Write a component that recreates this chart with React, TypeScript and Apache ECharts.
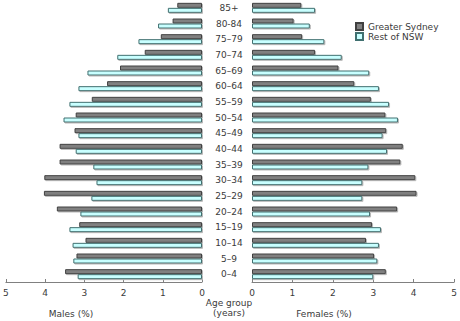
import React, { useEffect, useRef } from "react";
import * as echarts from "echarts";

const ageGroups = ["85+", "80-84", "75–79", "70–74", "65–69", "60–64", "55–59", "50–54", "45–49", "40–44", "35–39", "30–34", "25–29", "20–24", "15–19", "10–14", "5–9", "0–4"];
const malesSydney = [0.63, 0.75, 1.05, 1.46, 2.09, 2.42, 2.81, 3.22, 3.25, 3.63, 3.63, 4.02, 4.03, 3.70, 3.13, 2.97, 3.20, 3.49];
const malesRest = [0.87, 1.12, 1.62, 2.16, 2.92, 3.15, 3.38, 3.53, 3.15, 3.22, 2.77, 2.69, 2.82, 3.10, 3.38, 3.30, 3.28, 3.17];
const femalesSydney = [1.22, 1.03, 1.24, 1.56, 2.14, 2.53, 2.94, 3.30, 3.32, 3.73, 3.67, 4.04, 4.07, 3.59, 2.97, 2.82, 3.02, 3.31];
const femalesRest = [1.56, 1.43, 1.79, 2.22, 2.90, 3.14, 3.39, 3.61, 3.23, 3.34, 2.88, 2.73, 2.73, 2.92, 3.19, 3.14, 3.10, 3.00];
const seriesNames = ["Greater Sydney", "Rest of NSW"];

const FONT = "DejaVu Sans, Verdana, sans-serif";
const TXT = "#3a3a3a";

export default function App() {
  const ref = useRef<HTMLDivElement>(null);
  useEffect(() => {
    if (!ref.current) return;
    const chart = echarts.init(ref.current, null, { renderer: "svg" });
    const darkStyle = { color: "#808080", borderColor: "#404040", borderWidth: 1, shadowColor: "#b8b8b8", shadowOffsetX: 1, shadowOffsetY: 1, shadowBlur: 0 };
    const lightStyle = { color: "#c8ffff", borderColor: "#407070", borderWidth: 1, shadowColor: "#b8b8b8", shadowOffsetX: 1, shadowOffsetY: 1, shadowBlur: 0 };
    const xAxisCommon = {
      type: "value",
      min: 0,
      max: 5,
      interval: 1,
      splitLine: { show: false },
      axisLine: { show: true, lineStyle: { color: "#808080", width: 1 } },
      axisTick: { show: true, inside: true, length: 3, lineStyle: { color: "#808080" } },
      axisLabel: { color: TXT, fontSize: 9, fontFamily: FONT, margin: 6 },
    };
    const yAxisCommon = {
      type: "category",
      data: ageGroups,
      inverse: true,
      axisLine: { show: false },
      axisTick: { show: false },
    };
    const barCommon = { type: "bar", barWidth: 5, barGap: "0%", barCategoryGap: "20%" };
    chart.setOption({
      animation: false,
      textStyle: { fontFamily: FONT },
      grid: [
        { left: 4, width: 198, top: 0, height: 282 },
        { left: 252, width: 204, top: 0, height: 282 },
      ],
      xAxis: [
        { ...xAxisCommon, gridIndex: 0, inverse: true },
        { ...xAxisCommon, gridIndex: 1 },
      ],
      yAxis: [
        { ...yAxisCommon, gridIndex: 0, axisLabel: { show: false } },
        { ...yAxisCommon, gridIndex: 1, axisLabel: { show: true, color: TXT, fontSize: 9, fontFamily: FONT, align: "center", margin: 23 } },
      ],
      legend: {
        orient: "vertical",
        left: 350,
        top: 17,
        itemWidth: 7,
        itemHeight: 7,
        itemGap: 1,
        icon: "rect",
        textStyle: { fontSize: 9, color: TXT, fontFamily: FONT },
        data: seriesNames,
      },
      series: [
        { ...barCommon, name: seriesNames[0], xAxisIndex: 0, yAxisIndex: 0, data: malesSydney, itemStyle: darkStyle },
        { ...barCommon, name: seriesNames[1], xAxisIndex: 0, yAxisIndex: 0, data: malesRest, itemStyle: lightStyle },
        { ...barCommon, name: seriesNames[0], xAxisIndex: 1, yAxisIndex: 1, data: femalesSydney, itemStyle: darkStyle },
        { ...barCommon, name: seriesNames[1], xAxisIndex: 1, yAxisIndex: 1, data: femalesRest, itemStyle: lightStyle },
      ],
      graphic: [
        { type: "text", x: 71, y: 314, style: { text: "Males (%)", fontSize: 9, fontFamily: FONT, fill: TXT, align: "center", verticalAlign: "middle" } },
        { type: "text", x: 229, y: 303, style: { text: "Age group", fontSize: 9, fontFamily: FONT, fill: TXT, align: "center", verticalAlign: "middle" } },
        { type: "text", x: 229, y: 313, style: { text: "(years)", fontSize: 9, fontFamily: FONT, fill: TXT, align: "center", verticalAlign: "middle" } },
        { type: "text", x: 324, y: 314, style: { text: "Females (%)", fontSize: 9, fontFamily: FONT, fill: TXT, align: "center", verticalAlign: "middle" } },
      ],
    });
    return () => chart.dispose();
  }, []);
  return <div ref={ref} style={{ width: 460, height: 321, position: "absolute", left: 0, top: 0 }} />;
}
